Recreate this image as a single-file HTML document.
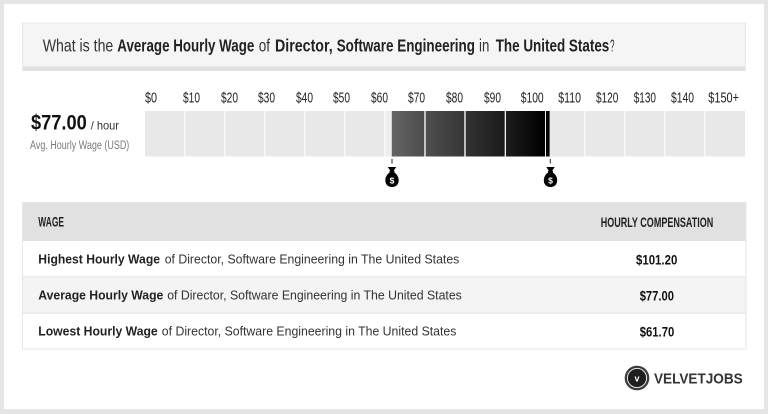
<!DOCTYPE html>
<html>
<head>
<meta charset="utf-8">
<style>
  html,body{margin:0;padding:0;background:#e5e5e5;}
  body{width:768px;height:414px;overflow:hidden;}
  svg{display:block;}
  text{font-family:"Liberation Sans", sans-serif;}
</style>
</head>
<body>
<svg width="768" height="414" viewBox="0 0 768 414" xmlns="http://www.w3.org/2000/svg">
  <defs>
    <linearGradient id="g1" x1="0" x2="1" y1="0" y2="0"><stop offset="0" stop-color="#656565"/><stop offset="1" stop-color="#4c4c4c"/></linearGradient>
    <linearGradient id="g2" x1="0" x2="1" y1="0" y2="0"><stop offset="0" stop-color="#4f4f4f"/><stop offset="1" stop-color="#363636"/></linearGradient>
    <linearGradient id="g3" x1="0" x2="1" y1="0" y2="0"><stop offset="0" stop-color="#333333"/><stop offset="1" stop-color="#1a1a1a"/></linearGradient>
    <linearGradient id="g4" x1="0" x2="1" y1="0" y2="0"><stop offset="0" stop-color="#1c1c1c"/><stop offset="1" stop-color="#000000"/></linearGradient>
  </defs>

  <!-- outer frame -->
  <rect x="0" y="0" width="768" height="414" fill="#e5e5e5"/>
  <rect x="4" y="4" width="760" height="405" fill="#ffffff"/>

  <!-- title box -->
  <rect x="22.5" y="23" width="723" height="48" fill="#e0e0e0"/>
  <rect x="22.5" y="23" width="723" height="43.5" fill="#f5f5f5" stroke="#e9e9e9" stroke-width="1"/>
  <g font-size="17.6" fill="#222">
    <text x="42.7" y="51.5" textLength="70.6" lengthAdjust="spacingAndGlyphs" fill="#333">What is the</text>
    <text x="117.3" y="51.5" textLength="137" lengthAdjust="spacingAndGlyphs" font-weight="bold">Average Hourly Wage</text>
    <text x="258.7" y="51.5" textLength="11.3" lengthAdjust="spacingAndGlyphs" fill="#333">of</text>
    <text x="275" y="51.5" textLength="57.7" lengthAdjust="spacingAndGlyphs" font-weight="bold">Director,</text>
    <text x="336.7" y="51.5" textLength="138.3" lengthAdjust="spacingAndGlyphs" font-weight="bold">Software Engineering</text>
    <text x="479" y="51.5" textLength="10.3" lengthAdjust="spacingAndGlyphs" fill="#333">in</text>
    <text x="495.7" y="51.5" textLength="113.6" lengthAdjust="spacingAndGlyphs" font-weight="bold">The United States</text>
    <text x="610" y="51.5" textLength="4.5" lengthAdjust="spacingAndGlyphs" fill="#333">?</text>
  </g>

  <!-- left big value -->
  <text x="31" y="129.3" font-size="21.5" font-weight="bold" fill="#111" textLength="55.7" lengthAdjust="spacingAndGlyphs">$77.00</text>
  <text x="90.7" y="129.3" font-size="12" fill="#333" textLength="28.3" lengthAdjust="spacingAndGlyphs">/ hour</text>
  <text x="30" y="149" font-size="11.5" fill="#7a7a7a" textLength="99.3" lengthAdjust="spacingAndGlyphs">Avg. Hourly Wage (USD)</text>

  <!-- scale labels -->
  <g font-size="14.5" fill="#222">
    <text x="145" y="102.5" textLength="12" lengthAdjust="spacingAndGlyphs">$0</text>
    <text x="183" y="102.5" textLength="17" lengthAdjust="spacingAndGlyphs">$10</text>
    <text x="221" y="102.5" textLength="17" lengthAdjust="spacingAndGlyphs">$20</text>
    <text x="258" y="102.5" textLength="17" lengthAdjust="spacingAndGlyphs">$30</text>
    <text x="296" y="102.5" textLength="17" lengthAdjust="spacingAndGlyphs">$40</text>
    <text x="333" y="102.5" textLength="17" lengthAdjust="spacingAndGlyphs">$50</text>
    <text x="371" y="102.5" textLength="17" lengthAdjust="spacingAndGlyphs">$60</text>
    <text x="408" y="102.5" textLength="17" lengthAdjust="spacingAndGlyphs">$70</text>
    <text x="446" y="102.5" textLength="17" lengthAdjust="spacingAndGlyphs">$80</text>
    <text x="484" y="102.5" textLength="17" lengthAdjust="spacingAndGlyphs">$90</text>
    <text x="520.7" y="102.5" textLength="23" lengthAdjust="spacingAndGlyphs">$100</text>
    <text x="558.3" y="102.5" textLength="22.7" lengthAdjust="spacingAndGlyphs">$110</text>
    <text x="596" y="102.5" textLength="22.3" lengthAdjust="spacingAndGlyphs">$120</text>
    <text x="633.7" y="102.5" textLength="22.3" lengthAdjust="spacingAndGlyphs">$130</text>
    <text x="671" y="102.5" textLength="23" lengthAdjust="spacingAndGlyphs">$140</text>
    <text x="708.3" y="102.5" textLength="30.7" lengthAdjust="spacingAndGlyphs">$150+</text>
  </g>

  <!-- bar light segments -->
  <g fill="#e8e8e8">
    <rect x="145" y="111" width="39.3" height="45.5"/>
    <rect x="185.3" y="111" width="39" height="45.5"/>
    <rect x="225.3" y="111" width="39" height="45.5"/>
    <rect x="265.3" y="111" width="39" height="45.5"/>
    <rect x="305.3" y="111" width="39" height="45.5"/>
    <rect x="345.3" y="111" width="39" height="45.5"/>
    <rect x="385.3" y="111" width="39" height="45.5" fill="#eeeeee"/>
    <rect x="425.3" y="111" width="39" height="45.5"/>
    <rect x="465.3" y="111" width="39" height="45.5"/>
    <rect x="505.3" y="111" width="39" height="45.5"/>
    <rect x="545.3" y="111" width="39" height="45.5"/>
    <rect x="585.3" y="111" width="39" height="45.5"/>
    <rect x="625.3" y="111" width="39" height="45.5"/>
    <rect x="665.3" y="111" width="39" height="45.5"/>
    <rect x="705.3" y="111" width="39.7" height="45.5"/>
  </g>
  <!-- dark range -->
  <rect x="391.8" y="111" width="32.5" height="45.5" fill="url(#g1)"/>
  <rect x="425.7" y="111" width="38.6" height="45.5" fill="url(#g2)"/>
  <rect x="465.7" y="111" width="39" height="45.5" fill="url(#g3)"/>
  <rect x="506" y="111" width="39" height="45.5" fill="url(#g4)"/>
  <rect x="546" y="111" width="3.6" height="45.5" fill="#000"/>

  <!-- ticks -->
  <rect x="391.5" y="159" width="1" height="4.5" fill="#222"/>
  <rect x="549.8" y="159" width="1" height="4.5" fill="#222"/>

  <!-- money bags -->
  <g transform="translate(392,167)">
    <polygon points="-4.2,0 4.2,0 1.6,4 -1.6,4" fill="#000"/>
    <rect x="-2.5" y="4" width="5" height="1.6" fill="#000"/>
    <path d="M-2.2,5.5 C-8.5,9 -8.5,20 0,20 C8.5,20 8.5,9 2.2,5.5 Z" fill="#000"/>
    <text x="0" y="16.3" font-size="8.5" font-weight="bold" fill="#fff" text-anchor="middle">$</text>
  </g>
  <g transform="translate(550.5,167)">
    <polygon points="-4.2,0 4.2,0 1.6,4 -1.6,4" fill="#000"/>
    <rect x="-2.5" y="4" width="5" height="1.6" fill="#000"/>
    <path d="M-2.2,5.5 C-8.5,9 -8.5,20 0,20 C8.5,20 8.5,9 2.2,5.5 Z" fill="#000"/>
    <text x="0" y="16.3" font-size="8.5" font-weight="bold" fill="#fff" text-anchor="middle">$</text>
  </g>

  <!-- table -->
  <rect x="22.5" y="202.5" width="723.5" height="146.5" fill="#ffffff" stroke="#e6e6e6" stroke-width="1"/>
  <rect x="23" y="203" width="722.5" height="38" fill="#e1e1e1"/>
  <rect x="23" y="276.2" width="722.5" height="1.3" fill="#e8e8e8"/>
  <rect x="23" y="277.5" width="722.5" height="35" fill="#f4f4f4"/>
  <rect x="23" y="312.5" width="722.5" height="1.3" fill="#e8e8e8"/>

  <text x="38.3" y="226.7" font-size="14" font-weight="bold" fill="#222" textLength="25.7" lengthAdjust="spacingAndGlyphs">WAGE</text>
  <text x="600.7" y="227" font-size="14" font-weight="bold" fill="#222" textLength="112.6" lengthAdjust="spacingAndGlyphs">HOURLY COMPENSATION</text>

  <g font-size="12.5">
    <text x="38.3" y="263.3" font-weight="bold" fill="#222" textLength="121.7" lengthAdjust="spacingAndGlyphs">Highest Hourly Wage</text>
    <text x="164.7" y="263.3" fill="#333" textLength="294.6" lengthAdjust="spacingAndGlyphs">of Director, Software Engineering in The United States</text>
    <text x="38.3" y="299.3" font-weight="bold" fill="#222" textLength="125" lengthAdjust="spacingAndGlyphs">Average Hourly Wage</text>
    <text x="167.2" y="299.3" fill="#333" textLength="294.6" lengthAdjust="spacingAndGlyphs">of Director, Software Engineering in The United States</text>
    <text x="38.3" y="335.3" font-weight="bold" fill="#222" textLength="119.4" lengthAdjust="spacingAndGlyphs">Lowest Hourly Wage</text>
    <text x="161.8" y="335.3" fill="#333" textLength="294.6" lengthAdjust="spacingAndGlyphs">of Director, Software Engineering in The United States</text>
  </g>

  <g font-size="14" font-weight="bold" fill="#111">
    <text x="636" y="264.3" textLength="41.3" lengthAdjust="spacingAndGlyphs">$101.20</text>
    <text x="639.7" y="300.7" textLength="34.3" lengthAdjust="spacingAndGlyphs">$77.00</text>
    <text x="639.7" y="336.7" textLength="34.6" lengthAdjust="spacingAndGlyphs">$61.70</text>
  </g>

  <!-- logo -->
  <circle cx="637" cy="378" r="12.3" fill="#3a3a3a"/>
  <circle cx="637" cy="378" r="9.6" fill="#1e1e1e" stroke="#e6e6e6" stroke-width="1"/>
  <text x="637" y="381.5" font-size="9" font-weight="bold" fill="#fff" text-anchor="middle">v</text>
  <text x="654" y="383.3" font-size="15" font-weight="bold" fill="#333" textLength="88.7" lengthAdjust="spacingAndGlyphs">VELVETJOBS</text>
</svg>
</body>
</html>
